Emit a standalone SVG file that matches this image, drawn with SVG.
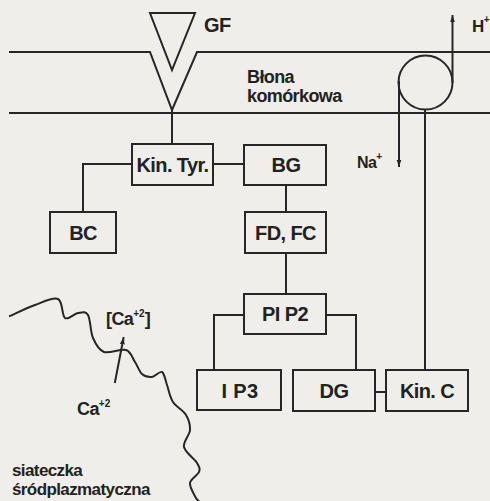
<svg xmlns="http://www.w3.org/2000/svg" width="490" height="501" viewBox="0 0 490 501">
<defs>
<style>
.ln{fill:none;stroke:#262626;stroke-width:2;stroke-linecap:square;stroke-linejoin:miter}
.bx{fill:none;stroke:#262626;stroke-width:2}
.t{font-family:"Liberation Sans",Arial,sans-serif;font-weight:bold;fill:#222;letter-spacing:-0.6px}
.c{text-anchor:middle;font-size:20px}
.sup{font-size:10px;letter-spacing:0}
</style>
<marker id="ah" viewBox="0 0 10 10" refX="9" refY="5" markerWidth="7" markerHeight="7" markerUnits="userSpaceOnUse" orient="auto">
<path d="M0,1.5 L10,5 L0,8.5 Z" fill="#262626"/>
</marker>
</defs>
<rect width="490" height="501" fill="#efeeea"/>

<g id="membrane">
<path class="ln" d="M10,52 H150 L172,110 L197,52 H490"/>
<path class="ln" d="M10,113 H490"/>
<text class="t" x="247" y="83" font-size="18">Błona</text>
<text class="t" x="247" y="102" font-size="18">komórkowa</text>
</g>

<g id="GF">
<path class="bx" d="M150,13 L195,13 L172,70 Z" stroke-linejoin="miter"/>
<text class="t" x="204" y="32" font-size="20">GF</text>
</g>

<g id="pump">
<circle cx="425.5" cy="82.5" r="27" class="bx"/>
<path class="ln" d="M399,82 V166" marker-end="url(#ah)"/>
<path class="ln" d="M452.5,82 V16" marker-end="url(#ah)"/>
<text class="t" x="357" y="168" font-size="16">Na<tspan class="sup" dy="-8">+</tspan></text>
<text class="t" x="472" y="32" font-size="17">H<tspan class="sup" dy="-9">+</tspan></text>
</g>

<g id="connectors">
<path class="ln" d="M172,110 V144"/>
<path class="ln" d="M213,164 H244"/>
<path class="ln" d="M132,164 H83 V212"/>
<path class="ln" d="M286,185 V212"/>
<path class="ln" d="M286,253 V294"/>
<path class="ln" d="M244,315 H214 V370"/>
<path class="ln" d="M326,315 H356 V370"/>
<path class="ln" d="M375,392 H386"/>
<path class="ln" d="M425,370 V110"/>
</g>

<g id="kin-tyr">
<rect class="bx" x="132" y="144" width="81" height="41"/>
<text class="t c" x="172.5" y="171.5">Kin. Tyr.</text>
</g>
<g id="BG">
<rect class="bx" x="244" y="145" width="82" height="40"/>
<text class="t c" x="286" y="172">BG</text>
</g>
<g id="BC">
<rect class="bx" x="50" y="212" width="66" height="41"/>
<text class="t c" x="83" y="240">BC</text>
</g>
<g id="FD-FC">
<rect class="bx" x="245" y="212" width="81" height="41"/>
<text class="t c" x="285.5" y="240">FD, FC</text>
</g>
<g id="PIP2">
<rect class="bx" x="244" y="294" width="82" height="40"/>
<text class="t c" x="285" y="321">PI P2</text>
</g>
<g id="IP3">
<rect class="bx" x="197" y="370" width="84" height="40"/>
<text class="t c" x="240" y="398" style="letter-spacing:0.3px">I P3</text>
</g>
<g id="DG">
<rect class="bx" x="293" y="370" width="82" height="41"/>
<text class="t c" x="334" y="398">DG</text>
</g>
<g id="kin-c">
<rect class="bx" x="386" y="370" width="82" height="41"/>
<text class="t c" x="427" y="398">Kin. C</text>
</g>

<g id="reticulum">
<path class="ln" stroke-linecap="round" stroke-linejoin="round" d="M10,316 C14.2,314.2 27,307.8 35,305 C43,302.2 53,296.8 58,299 C63,301.2 61.7,315.7 65,318 C68.3,320.3 74.2,313.5 78,313 C81.8,312.5 85.5,310.8 88,315 C90.5,319.2 90.3,331.8 93,338 C95.7,344.2 98.5,350 104,352 C109.5,354 120.8,348.3 126,350 C131.2,351.7 132.3,358 135,362 C137.7,366 139.2,371.5 142,374 C144.8,376.5 148.7,377.3 152,377 C155.3,376.7 159.5,370.7 162,372 C164.5,373.3 165.2,380 167,385 C168.8,390 169.8,397 173,402 C176.2,407 183.2,410.3 186,415 C188.8,419.7 190.3,424.7 190,430 C189.7,435.3 182.8,441.5 184,447 C185.2,452.5 194.5,458.8 197,463 C199.5,467.2 200.2,468.7 199,472 C197.8,475.3 190.5,478.7 190,483 C189.5,487.3 194.3,494.8 196,498 C197.7,501.2 199.3,501.3 200,502"/>
<path class="ln" stroke-linecap="round" d="M115,382 L123.5,338" marker-end="url(#ah)"/>
<text class="t" x="106" y="325" font-size="18">[Ca<tspan class="sup" dy="-8">+2</tspan><tspan dy="8">]</tspan></text>
<text class="t" x="77" y="415" font-size="18">Ca<tspan class="sup" dy="-8">+2</tspan></text>
<text class="t" x="12" y="476" font-size="17">siateczka</text>
<text class="t" x="12" y="495" font-size="17">śródplazmatyczna</text>
</g>
</svg>
